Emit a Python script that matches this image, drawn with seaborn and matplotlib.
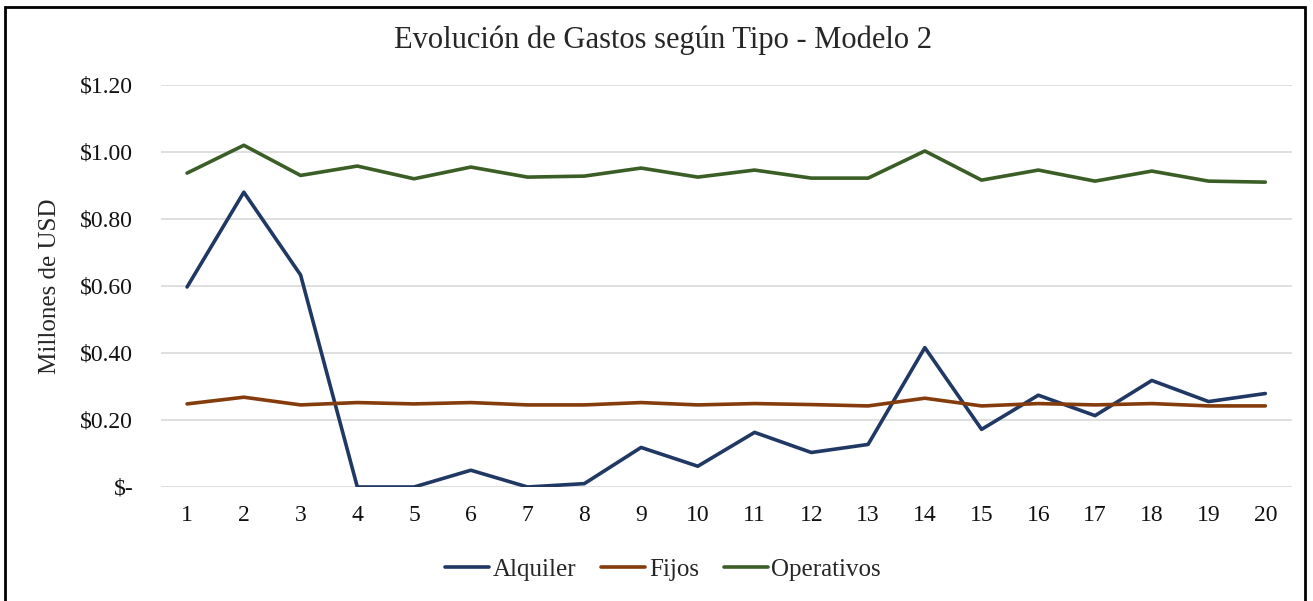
import pandas as pd
import matplotlib.pyplot as plt
import seaborn as sns
from matplotlib.patches import Rectangle
from matplotlib.ticker import FuncFormatter

periodos = list(range(1, 21))
alquiler = [0.597, 0.880, 0.633, 0.0, 0.0, 0.050, 0.0, 0.010, 0.118, 0.062,
            0.163, 0.103, 0.127, 0.416, 0.172, 0.274, 0.213, 0.318, 0.255, 0.279]
fijos = [0.248, 0.268, 0.245, 0.252, 0.248, 0.252, 0.245, 0.245, 0.252, 0.245,
         0.249, 0.246, 0.242, 0.265, 0.242, 0.249, 0.245, 0.249, 0.242, 0.242]
operativos = [0.937, 1.020, 0.930, 0.958, 0.920, 0.955, 0.925, 0.928, 0.952, 0.925,
              0.946, 0.922, 0.922, 1.003, 0.916, 0.946, 0.913, 0.943, 0.913, 0.910]
series = ["Alquiler", "Fijos", "Operativos"]
colores = ["#203864", "#843C0C", "#3B5E26"]

df = pd.DataFrame({"Periodo": periodos * 3,
                   "Valor": alquiler + fijos + operativos,
                   "Tipo": [s for s in series for _ in periodos]})

sns.set_style("white")
plt.rcParams['font.family'] = ['Liberation Serif', 'DejaVu Serif']

fig = plt.figure(figsize=(13.13, 6.01), dpi=100)
ax = fig.add_axes([0.1226, 0.1897, 0.8614, 0.6689])

sns.lineplot(data=df, x="Periodo", y="Valor", hue="Tipo", palette=colores,
             linewidth=2.6, ax=ax)

ax.set_xlim(0.54, 20.47)
ax.set_ylim(0, 1.2)
ax.set_xticks(periodos)
ax.set_yticks([0, 0.2, 0.4, 0.6, 0.8, 1.0, 1.2])
ax.yaxis.set_major_formatter(FuncFormatter(lambda v, p: "$-" if v == 0 else f"${v:.2f}"))
ax.tick_params(axis="both", labelsize=17, length=0, colors="#111111")
ax.tick_params(axis="x", pad=13)
ax.tick_params(axis="y", pad=20)
ax.grid(axis="y", color="#d9d9d9", linewidth=1.2)
ax.set_axisbelow(True)
for s in ax.spines.values():
    s.set_visible(False)

ax.set_xlabel("")
ax.set_ylabel("Millones de USD", fontsize=18, labelpad=14)
fig.text(0.505, 1 - 40 / 601, "Evolución de Gastos según Tipo - Modelo 2",
         fontsize=22, ha="center", va="center")

handles, labels = ax.get_legend_handles_labels()
ax.get_legend().remove()
fig.legend(handles, labels, loc="center", bbox_to_anchor=(0.505, 0.052), ncol=3,
           frameon=False, fontsize=18, handlelength=1.75, handletextpad=0.15,
           columnspacing=1.0)

fig.patches.append(Rectangle((0.004, -0.02), 0.99, 1.008, transform=fig.transFigure,
                             fill=False, edgecolor="black", linewidth=2))

fig.savefig("out.png", dpi=100)
